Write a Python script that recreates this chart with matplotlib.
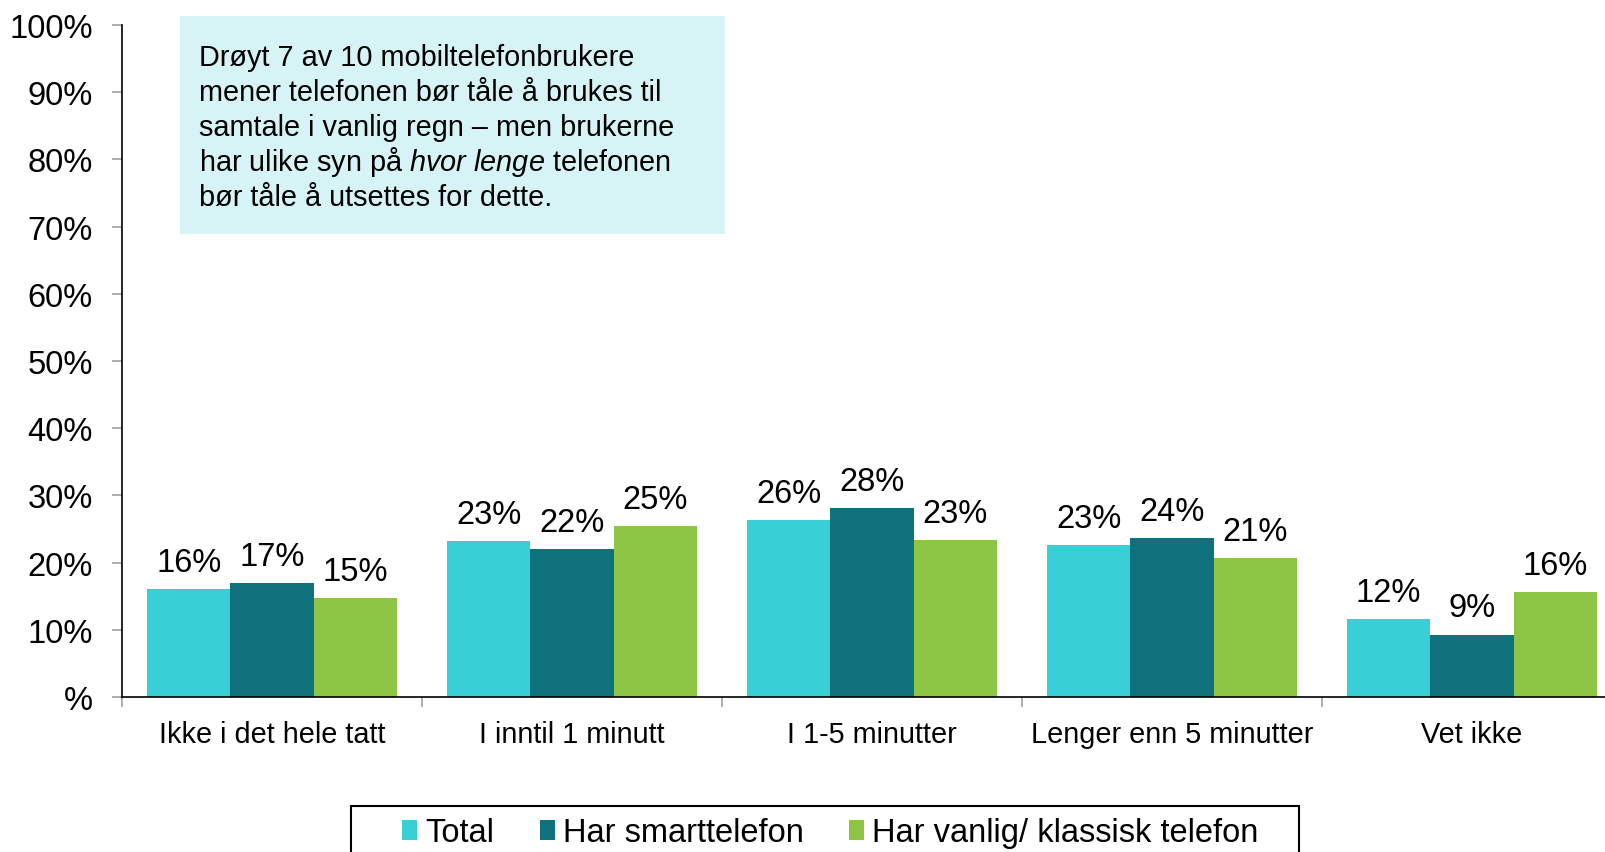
import matplotlib
matplotlib.use("Agg")
import matplotlib.pyplot as plt
from matplotlib.patches import Rectangle, Patch
import numpy as np

categories = ["Ikke i det hele tatt", "I inntil 1 minutt", "I 1-5 minutter",
              "Lenger enn 5 minutter", "Vet ikke"]
series_names = ["Total", "Har smarttelefon", "Har vanlig/ klassisk telefon"]
total = [16.1, 23.2, 26.3, 22.6, 11.6]
smart = [16.9, 22.0, 28.1, 23.7, 9.3]
classic = [14.7, 25.4, 23.4, 20.7, 15.6]
yticks = [0, 10, 20, 30, 40, 50, 60, 70, 80, 90, 100]
ytick_labels = ["%", "10%", "20%", "30%", "40%", "50%", "60%", "70%", "80%", "90%", "100%"]
box_lines = ["Drøyt 7 av 10 mobiltelefonbrukere",
             "mener telefonen bør tåle å brukes til",
             "samtale i vanlig regn – men brukerne",
             r"har ulike syn på $\it{hvor\ lenge}$ telefonen",
             "bør tåle å utsettes for dette."]

colors = ["#39CFD6", "#0F717C", "#8CC443"]

plt.rcParams['font.family'] = ['Liberation Sans', 'DejaVu Sans']
plt.rcParams['mathtext.fontset'] = 'custom'
plt.rcParams['mathtext.rm'] = 'Liberation Sans'
plt.rcParams['mathtext.it'] = 'Liberation Sans:italic'

W, H = 1606, 853
fig = plt.figure(figsize=(W / 100, H / 100), dpi=100)
ax = fig.add_axes([122 / W, 1 - 698 / H, (1622 - 122) / W, (698 - 26) / H])

fs_big = 23.5
fs_small = 20.8
x = np.arange(len(categories))
bw = 0.2778
for k, vals in enumerate([total, smart, classic]):
    pos = x + (k - 1) * bw
    ax.bar(pos, vals, width=bw, color=colors[k], edgecolor='none', label=series_names[k])
    for px, v in zip(pos, vals):
        ax.annotate(f"{v:.0f}%", (px, v), xytext=(0, 13), textcoords='offset points',
                    ha='center', va='baseline', fontsize=fs_big, color='black')

ax.set_xlim(-0.5, 4.5)
ax.set_ylim(0, 100)
ax.set_yticks(yticks)
ax.set_yticklabels(ytick_labels, fontsize=fs_big)
ax.set_xticks(x)
ax.set_xticklabels(categories, fontsize=fs_small)
ax.tick_params(axis='x', length=0, pad=16.5)
ax.set_xticks(np.arange(-0.5, 5.0, 1.0), minor=True)
ax.tick_params(axis='x', which='minor', length=7, color='#A0A0A0', width=1.2, direction='out')
ax.tick_params(axis='y', length=7, color='#A0A0A0', width=1.2, pad=14)
for s in ['top', 'right']:
    ax.spines[s].set_visible(False)
for s in ['left', 'bottom']:
    ax.spines[s].set_color('black')
    ax.spines[s].set_linewidth(1.2)

# annotation box
fig.patches.append(Rectangle((180 / W, 1 - 234.5 / H), (725 - 180) / W, (234.5 - 17.4) / H,
                             transform=fig.transFigure, facecolor='#D6F3F6', edgecolor='none',
                             zorder=3))
for i, line in enumerate(box_lines):
    yb = 66.5 + i * 34.8
    fig.text(199 / W, 1 - yb / H, line, fontsize=fs_small, ha='left', va='baseline', zorder=4)

# legend frame
fig.patches.append(Rectangle((351 / W, 1 - 870 / H), (1299 - 351) / W, (870 - 807) / H,
                             transform=fig.transFigure, facecolor='white', edgecolor='black',
                             linewidth=1.5, zorder=3))
handles = [Patch(facecolor=c, edgecolor='none') for c in colors]
leg = fig.legend(handles, series_names, loc='center', ncol=3,
                 bbox_to_anchor=(830.5 / W, 1 - 834 / H), fontsize=fs_big,
                 frameon=False, borderpad=0,
                 handlelength=0.45, handleheight=0.55, handletextpad=0.25,
                 columnspacing=1.4, borderaxespad=0)
leg.set_zorder(5)

fig.savefig("out.png", dpi=100)
